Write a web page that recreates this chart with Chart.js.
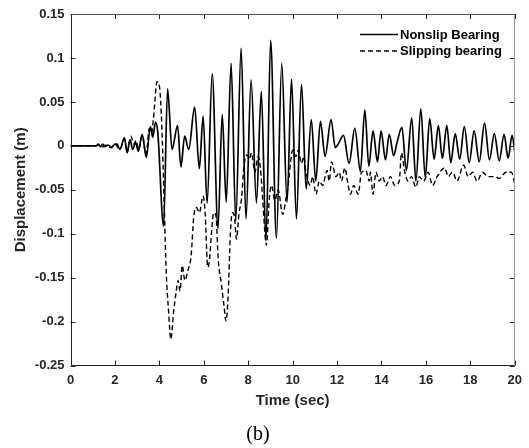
<!DOCTYPE html>
<html>
<head>
<meta charset="utf-8">
<script src="https://cdn.jsdelivr.net/npm/chart.js@4/dist/chart.umd.min.js"></script>
<style>
  html, body { margin: 0; padding: 0; background: #fff; }
</style>
</head>
<body>
<canvas id="chart" width="529" height="448"></canvas>
<script>
// Axis ticks
const xTicks = [0, 2, 4, 6, 8, 10, 12, 14, 16, 18, 20];
const yTicks = [-0.25, -0.2, -0.15, -0.1, -0.05, 0, 0.05, 0.1, 0.15];
const yTickLabels = ["-0.25", "-0.2", "-0.15", "-0.1", "-0.05", "0", "0.05", "0.1", "0.15"];

// Nonslip bearing: time (s) / displacement (m), read at peaks and valleys
const nonslipT = [0, 1.15, 1.25, 1.35, 1.45, 1.55, 1.7, 1.85, 2.0, 2.1, 2.22, 2.43, 2.55, 2.68, 2.8, 2.93, 3.05,
  3.23, 3.41, 3.6, 3.7, 3.83, 3.93, 4.19, 4.37, 4.57, 4.82, 4.97, 5.14, 5.32, 5.59, 5.8, 5.97, 6.15, 6.38,
  6.64, 6.83, 7.01, 7.23, 7.44, 7.68, 7.9, 8.13, 8.37, 8.59, 8.8, 9.01, 9.27, 9.51, 9.75, 9.95, 10.17,
  10.4, 10.61, 10.84, 11.04, 11.25, 11.46, 11.73, 11.92, 12.05, 12.29, 12.54, 12.8, 13.05, 13.25, 13.43,
  13.62, 13.82, 13.98, 14.18, 14.35, 14.55, 14.7, 14.92, 15.12, 15.36, 15.55, 15.77, 15.97, 16.17, 16.37,
  16.56, 16.74, 16.94, 17.12, 17.32, 17.52, 17.73, 17.95, 18.17, 18.4, 18.64, 18.86, 19.08, 19.3, 19.52,
  19.7, 19.88, 20];
const nonslipD = [0, 0, 0.002, -0.001, 0.002, -0.001, 0.001, -0.002, 0.002, 0.002, -0.004, 0.009, -0.008, 0.007, -0.004, 0.004, -0.006,
  0.013, -0.013, 0.022, 0.010, 0.027, 0.015, -0.091, 0.065, -0.004, 0.023, -0.024, 0.011, -0.004, 0.044, -0.026, 0.034, -0.065, 0.082,
  -0.094, 0.036, -0.064, 0.094, -0.085, 0.111, -0.083, 0.075, -0.065, 0.062, -0.108, 0.120, -0.105, 0.094, -0.064, 0.076, -0.083,
  0.070, -0.049, 0.030, -0.040, 0.028, -0.012, 0.030, -0.002, 0.002, 0.012, -0.020, 0.020, -0.029, 0.041, -0.023,
  0.017, -0.018, 0.017, -0.016, 0.013, -0.011, 0.004, 0.021, -0.028, 0.032, -0.040, 0.042, -0.036, 0.031, -0.015,
  0.023, -0.014, 0.023, -0.019, 0.014, -0.015, 0.022, -0.019, 0.017, -0.018, 0.026, -0.016, 0.014, -0.017, 0.013,
  -0.014, 0.012, -0.007];

// Slipping bearing
const slipT = [0, 1.15, 1.3, 1.45, 1.6, 1.8, 2.0, 2.22, 2.43, 2.55, 2.72, 2.85, 2.95, 3.07, 3.23, 3.4, 3.55, 3.65,
  3.73, 3.9, 4.0, 4.11, 4.22, 4.31, 4.41, 4.52, 4.64, 4.75, 4.84, 4.93, 5.03, 5.15, 5.28, 5.43, 5.55, 5.67,
  5.8, 5.97, 6.06, 6.18, 6.26, 6.35, 6.45, 6.55, 6.65, 6.79, 6.91, 7.0, 7.09, 7.2, 7.29, 7.38, 7.47, 7.59,
  7.7, 7.8, 7.95, 8.05, 8.15, 8.3, 8.45, 8.55, 8.65, 8.82, 8.95, 9.05, 9.2, 9.35, 9.55, 9.7, 9.8, 9.9, 10.0,
  10.15, 10.25, 10.4, 10.5, 10.6, 10.8, 10.9, 11.05, 11.2, 11.35, 11.55, 11.65, 11.75, 11.95, 12.1, 12.2,
  12.35, 12.5, 12.6, 12.75, 12.95, 13.1, 13.3, 13.45, 13.5, 13.62, 13.75, 13.9, 14.05, 14.2, 14.4, 14.6,
  14.8, 14.9, 15.05, 15.2, 15.35, 15.55, 15.7, 15.9, 16.1, 16.3, 16.5, 16.85, 17.0, 17.2, 17.4, 17.7, 17.9,
  18.1, 18.3, 18.55, 18.8, 19.1, 19.3, 19.6, 19.85, 20];
const slipD = [0, 0, 0.001, -0.001, 0.001, -0.002, 0.002, -0.004, 0.008, -0.007, 0.011, 0.002, 0.006, -0.004, 0.012, -0.010, 0.020, 0.015,
  0.030, 0.073, 0.068, 0.023, -0.068, -0.144, -0.186, -0.220, -0.189, -0.167, -0.153, -0.165, -0.136, -0.153, -0.142, -0.125, -0.080, -0.070,
  -0.076, -0.057, -0.076, -0.138, -0.129, -0.098, -0.076, -0.080, -0.129, -0.157, -0.182, -0.199, -0.174, -0.098, -0.076, -0.080, -0.106, -0.076,
  -0.060, -0.025, -0.010, -0.015, -0.008, -0.030, -0.012, -0.025, -0.060, -0.113, -0.060, -0.045, -0.062, -0.050, -0.078, -0.060, -0.045, -0.020, -0.005,
  -0.012, -0.005, -0.020, -0.012, -0.030, -0.045, -0.035, -0.055, -0.040, -0.045, -0.028, -0.040, -0.018, -0.035, -0.030, -0.040,
  -0.025, -0.045, -0.055, -0.045, -0.055, -0.030, -0.028, -0.040, -0.030, -0.055, -0.030, -0.040, -0.035, -0.045, -0.035, -0.045,
  -0.040, -0.008, -0.030, -0.040, -0.035, -0.047, -0.035, -0.040, -0.030, -0.045, -0.035, -0.025, -0.035, -0.030, -0.040, -0.022, -0.035,
  -0.030, -0.040, -0.030, -0.035, -0.035, -0.037, -0.030, -0.030, -0.043];

const textColor = "#262626";
const sans = "Arial, 'Liberation Sans', sans-serif";

// Box with inward ticks + legend (MATLAB style)
const boxPlugin = {
  id: "boxPlugin",
  afterDatasetsDraw(chart) {
    const { ctx, chartArea: a, scales } = chart;
    const tl = 5;
    ctx.save();
    ctx.lineWidth = 1;
    // ticks
    ctx.strokeStyle = textColor;
    ctx.beginPath();
    xTicks.forEach(v => {
      const px = Math.round(scales.x.getPixelForValue(v)) + 0.5;
      ctx.moveTo(px, a.bottom); ctx.lineTo(px, a.bottom - tl);
      ctx.moveTo(px, a.top); ctx.lineTo(px, a.top + tl);
    });
    yTicks.forEach(v => {
      const py = Math.round(scales.y.getPixelForValue(v)) + 0.5;
      ctx.moveTo(a.left, py); ctx.lineTo(a.left + tl, py);
      ctx.moveTo(a.right, py); ctx.lineTo(a.right - tl, py);
    });
    ctx.stroke();
    // box
    const l = Math.round(a.left) + 0.5, r = Math.round(a.right) - 0.5;
    const t = Math.round(a.top) + 0.5, b = Math.round(a.bottom) - 0.5;
    ctx.strokeStyle = "#222";
    ctx.beginPath();
    ctx.moveTo(l, t); ctx.lineTo(l, b); ctx.lineTo(r, b);
    ctx.stroke();
    ctx.strokeStyle = "#555";
    ctx.beginPath();
    ctx.moveTo(l, t); ctx.lineTo(r, t);
    ctx.stroke();
    ctx.strokeStyle = "#9a9a9a";
    ctx.beginPath();
    ctx.moveTo(r, t); ctx.lineTo(r, b);
    ctx.stroke();

    // legend
    ctx.font = "bold 13px " + sans;
    ctx.textBaseline = "middle";
    ctx.fillStyle = "#000";
    chart.data.datasets.forEach((ds, i) => {
      const y = 34.5 + i * 16.5;
      ctx.strokeStyle = ds.borderColor;
      ctx.lineWidth = ds.borderWidth;
      ctx.setLineDash(ds.borderDash || []);
      ctx.beginPath();
      ctx.moveTo(360, y); ctx.lineTo(398, y);
      ctx.stroke();
      ctx.setLineDash([]);
      ctx.fillText(ds.label, 400, y + 0.5);
    });
    ctx.restore();
  }
};

const toPoints = (ts, ds) => ts.map((t, i) => ({ x: t, y: ds[i] }));

new Chart(document.getElementById("chart"), {
  type: "line",
  data: {
    datasets: [{
      label: "Nonslip Bearing",
      data: toPoints(nonslipT, nonslipD),
      borderColor: "#000",
      borderWidth: 1.7,
      pointRadius: 0,
      cubicInterpolationMode: "monotone"
    }, {
      label: "Slipping bearing",
      data: toPoints(slipT, slipD),
      borderColor: "#000",
      borderWidth: 1.4,
      borderDash: [5, 3],
      pointRadius: 0,
      cubicInterpolationMode: "monotone"
    }]
  },
  options: {
    responsive: false,
    animation: false,
    devicePixelRatio: 1,
    layout: { padding: { top: 14, right: 13, left: 0, bottom: 0 } },
    scales: {
      x: {
        type: "linear",
        min: 0,
        max: 20,
        afterBuildTicks: s => { s.ticks = xTicks.map(v => ({ value: v })); },
        afterFit: s => { s.height = 57.3; },
        grid: { display: false, drawTicks: false },
        border: { display: false },
        ticks: { color: textColor, font: { family: sans, size: 13, weight: "bold" }, padding: 7, maxRotation: 0, autoSkip: false },
        title: { display: true, text: "Time (sec)", color: textColor, font: { family: sans, size: 15, weight: "bold" }, padding: { top: 0, bottom: 13 } }
      },
      y: {
        type: "linear",
        min: -0.25,
        max: 0.15,
        afterBuildTicks: s => { s.ticks = yTicks.map(v => ({ value: v })); },
        afterFit: s => { s.width = 70.5; },
        grid: { display: false, drawTicks: false },
        border: { display: false },
        ticks: {
          color: textColor, font: { family: sans, size: 13, weight: "bold" }, padding: 6, autoSkip: false,
          callback: (v, i) => yTickLabels[i]
        },
        title: { display: true, text: "Displacement (m)", color: textColor, font: { family: sans, size: 15, weight: "bold" }, padding: { top: 12, bottom: 0 } }
      }
    },
    plugins: {
      legend: { display: false },
      tooltip: { enabled: false },
      title: {
        display: true,
        text: "(b)",
        position: "bottom",
        color: "#000",
        font: { family: "'Times New Roman', 'Liberation Serif', serif", size: 20, weight: "normal" },
        padding: { top: 0, bottom: 1 }
      }
    }
  },
  plugins: [boxPlugin]
});
</script>
</body>
</html>
